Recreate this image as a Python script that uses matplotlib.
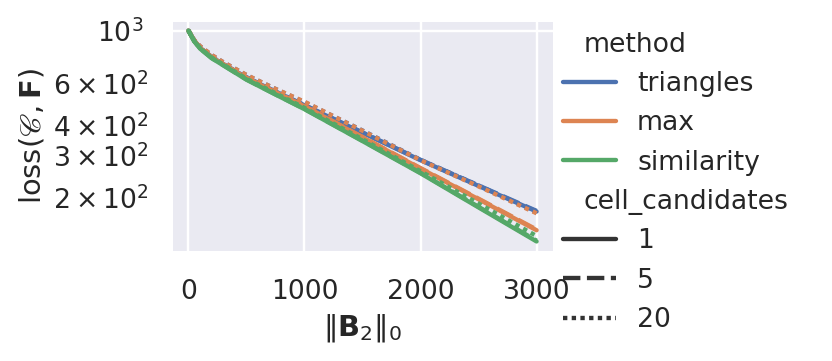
import matplotlib
matplotlib.use("Agg")
import matplotlib.pyplot as plt
import numpy as np
import pandas as pd
import seaborn as sns

x_vals = [0, 50, 100, 200, 300, 500, 750, 1000, 1500, 2000, 2500, 3000]
methods = ["triangles", "max", "similarity"]
cell_candidates = [1, 5, 20]

triangles_1 = [1000, 908, 847, 776, 724, 638, 556, 488, 375, 288, 225, 176]
triangles_5 = [1000, 908, 847, 777, 725, 639, 557, 489, 376, 289, 226, 177]
triangles_20 = [1000, 911, 860, 790, 738, 652, 571, 503, 383, 289, 226, 174]
max_1 = [1000, 908, 847, 774, 723, 635, 553, 483, 359, 266, 198, 147]
max_5 = [1000, 908, 848, 775, 724, 636, 554, 484, 360, 267, 199, 148]
max_20 = [1000, 912, 861, 791, 738, 653, 571, 505, 382, 288, 224, 173]
similarity_1 = [1000, 902, 841, 767, 716, 624, 541, 470, 346, 254, 183, 132]
similarity_5 = [1000, 903, 842, 768, 717, 625, 542, 471, 347, 255, 184, 133]
similarity_20 = [1000, 905, 845, 772, 722, 630, 548, 476, 352, 259, 190, 139]

series = {
    ("triangles", 1): triangles_1, ("triangles", 5): triangles_5, ("triangles", 20): triangles_20,
    ("max", 1): max_1, ("max", 5): max_5, ("max", 20): max_20,
    ("similarity", 1): similarity_1, ("similarity", 5): similarity_5, ("similarity", 20): similarity_20,
}

rows = []
for (m, c), ys in series.items():
    for xv, yv in zip(x_vals, ys):
        rows.append({"x": xv, "loss": yv, "method": m, "cell_candidates": c})
df = pd.DataFrame(rows)

sns.set_theme(context="talk", style="darkgrid",
              rc={"lines.linewidth": 2.7, "xtick.major.pad": 8, "ytick.major.pad": 8,
                  "ytick.minor.pad": 8})

DPI = 116
fig = plt.figure(figsize=(832 / DPI, 361 / DPI), dpi=DPI)
ax = fig.add_axes([171 / 832, 1 - 252 / 361, (554 - 171) / 832, (252 - 20) / 361])
sns.lineplot(data=df, x="x", y="loss", hue="method", hue_order=methods,
             style="cell_candidates", style_order=cell_candidates, ax=ax)
ax.set_yscale("log")
ax.set_xlabel(r"$\|\mathbf{B}_2\|_0$")
ax.set_ylabel(r"loss$(\mathscr{C}, \mathbf{F})$")
sns.move_legend(ax, "center left", bbox_to_anchor=(0.96, 0.30), frameon=False)

# subtitle entries: collapse their (invisible) handle area
leg = ax.get_legend()
for col in leg._legend_handle_box.get_children():
    for row in col.get_children():
        da, ta = row.get_children()
        txt = ta._text.get_text()
        if txt in ("method", "cell_candidates"):
            da.width = 0

fig.savefig("out.png", dpi=DPI)
